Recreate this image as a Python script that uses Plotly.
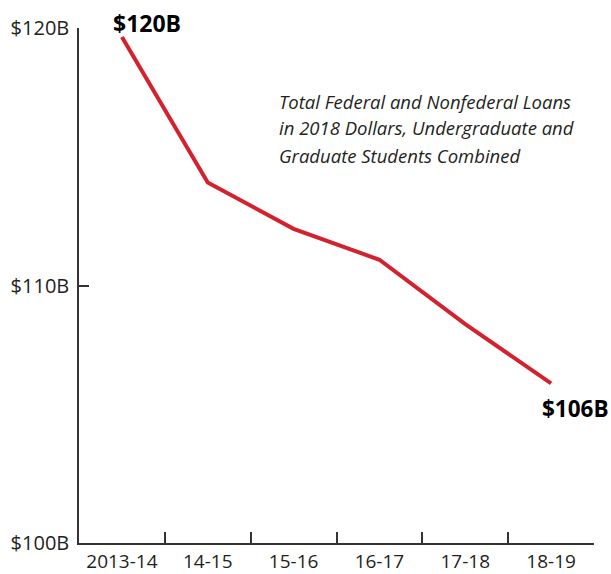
import plotly.graph_objects as go

years = ["2013-14", "14-15", "15-16", "16-17", "17-18", "18-19"]
loans_billions = [119.65, 114.0, 112.2, 111.0, 108.5, 106.2]
y_tick_vals = [100, 110, 120]
y_tick_text = ["$100B", "$110B", "$120B"]
first_label = "$120B"
last_label = "$106B"
note_lines = ["Total Federal and Nonfederal Loans",
              "in 2018 Dollars, Undergraduate and",
              "Graduate Students Combined"]
note_line_y = [0.858, 0.806, 0.753]

FONT = "Open Sans"
INK = "#231f20"
RED = "#d3222e"

fig = go.Figure()
fig.add_trace(go.Scatter(
    x=years, y=loans_billions, mode="lines",
    line=dict(color=RED, width=4), hoverinfo="skip", showlegend=False,
))

fig.add_annotation(x=years[0], y=loans_billions[0], text="<b>" + first_label + "</b>",
                   showarrow=False, xanchor="left", yanchor="bottom",
                   xshift=-11, yshift=-4, font=dict(family=FONT, size=23, color="#000"))
fig.add_annotation(x=years[-1], y=loans_billions[-1], text="<b>" + last_label + "</b>",
                   showarrow=False, xanchor="center", yanchor="middle",
                   xshift=24, yshift=-25, font=dict(family=FONT, size=22.5, color="#000"))
for line, ly in zip(note_lines, note_line_y):
    fig.add_annotation(xref="paper", yref="paper", x=0.385, y=ly,
                       text="<i>" + line + "</i>", showarrow=False,
                       xanchor="left", yanchor="middle", align="left",
                       font=dict(family=FONT, size=18.5, color=INK))

fig.update_layout(
    width=611, height=574,
    margin=dict(l=79, r=17, t=28, b=31),
    paper_bgcolor="white", plot_bgcolor="white",
    font=dict(family=FONT, color=INK),
    xaxis=dict(
        type="category", range=[-0.5, 5.5], showgrid=False, zeroline=False,
        showline=True, linecolor="#333", linewidth=1.5,
        ticks="inside", tickson="boundaries", ticklen=11, tickcolor="#333", tickwidth=1.5,
        tickfont=dict(family=FONT, size=19, color=INK), automargin=False,
    ),
    yaxis=dict(
        range=[100, 120], tickvals=y_tick_vals, ticktext=y_tick_text,
        showgrid=False, zeroline=False, showline=True, linecolor="#333", linewidth=1.5,
        ticks="inside", ticklen=10, tickcolor="#333", tickwidth=1.5, ticklabelstandoff=4,
        tickfont=dict(family=FONT, size=20, color=INK), automargin=False,
    ),
)

fig.write_html(
    "out.html",
    config={"displayModeBar": False},
    post_script="document.body.style.margin='0';document.body.style.overflow='hidden';",
)
